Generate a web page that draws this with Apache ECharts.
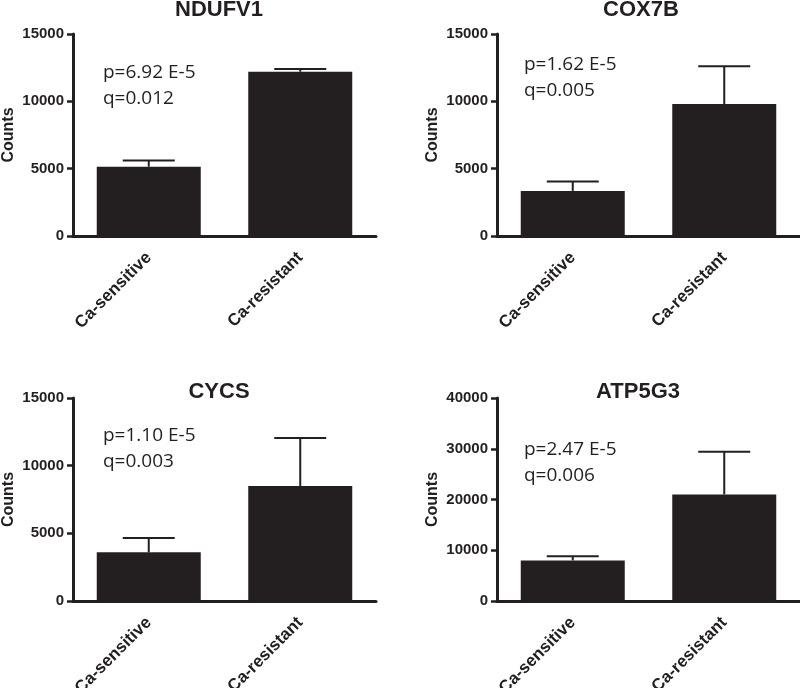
<!DOCTYPE html>
<html>
<head>
<meta charset="utf-8">
<script src="https://cdn.jsdelivr.net/npm/echarts@6/dist/echarts.min.js"></script>
<style>
html,body{margin:0;padding:0;background:#fff;overflow:hidden;}
#chart{width:800px;height:780px;}
</style>
</head>
<body>
<div id="chart"></div>
<script>
// ---- data ----
const categories = ['Ca-sensitive', 'Ca-resistant'];
const genes = ['NDUFV1', 'COX7B', 'CYCS', 'ATP5G3'];
const ndufv1Mean = [5150, 12200];
const ndufv1Upper = [5600, 12400];
const cox7bMean = [3350, 9800];
const cox7bUpper = [4050, 12600];
const cycsMean = [3600, 8500];
const cycsUpper = [4650, 12050];
const atp5g3Mean = [8000, 21000];
const atp5g3Upper = [8800, 29400];
const yMax = [15000, 15000, 15000, 40000];
const yInterval = [5000, 5000, 5000, 10000];
const pLabels = ['p=6.92 E-5', 'p=1.62 E-5', 'p=1.10 E-5', 'p=2.47 E-5'];
const qLabels = ['q=0.012', 'q=0.005', 'q=0.003', 'q=0.006'];

const means = [ndufv1Mean, cox7bMean, cycsMean, atp5g3Mean];
const uppers = [ndufv1Upper, cox7bUpper, cycsUpper, atp5g3Upper];

const INK = '#231f20';
const BOLD = '"Liberation Sans", Arial, sans-serif';
const LIGHT = '"Open Sans", sans-serif';

const grids = [
  {left: 72, top: 34, width: 304, height: 202},
  {left: 497, top: 34, width: 304, height: 202},
  {left: 72, top: 398, width: 304, height: 203},
  {left: 497, top: 398, width: 304, height: 203}
];

const titlePos = [[219, 10], [641, 10], [219, 392], [638, 392]];
const pPos = [[103, 73], [524, 64.5], [103, 436], [524, 449.5]];
const qPos = [[103, 99], [524, 90.5], [103, 462], [524, 475.5]];

const xAxes = [], yAxes = [], series = [], graphics = [];
for (let i = 0; i < 4; i++) {
  xAxes.push({
    type: 'category', gridIndex: i, data: categories,
    axisLine: {lineStyle: {color: INK, width: 3}},
    axisTick: {alignWithLabel: true, length: 9, lineStyle: {color: INK, width: 3}},
    axisLabel: {rotate: 45, margin: 19, color: INK, fontFamily: BOLD, fontWeight: 'bold', fontSize: 17, interval: 0},
    splitLine: {show: false}
  });
  yAxes.push({
    type: 'value', gridIndex: i, min: 0, max: yMax[i], interval: yInterval[i],
    name: 'Counts', nameLocation: 'middle', nameGap: 56,
    nameTextStyle: {color: INK, fontFamily: BOLD, fontWeight: 'bold', fontSize: 16},
    axisLine: {show: true, lineStyle: {color: INK, width: 3}},
    axisTick: {show: true, length: 6, lineStyle: {color: INK, width: 2.5}},
    axisLabel: {margin: 9, color: INK, fontFamily: BOLD, fontWeight: 'bold', fontSize: 15,
      formatter: function (v) { return String(v); }},
    splitLine: {show: false}
  });
  series.push({
    type: 'bar', xAxisIndex: i, yAxisIndex: i, data: means[i], barWidth: 104,
    itemStyle: {color: INK}, silent: true, animation: false
  });
  series.push({
    type: 'custom', xAxisIndex: i, yAxisIndex: i, z: 5, animation: false, silent: true,
    data: means[i].map((m, k) => [k, m, uppers[i][k]]),
    renderItem: function (params, api) {
      const b = api.coord([api.value(0), api.value(1)]);
      const t = api.coord([api.value(0), api.value(2)]);
      const half = 26;
      return {
        type: 'group',
        children: [
          {type: 'line', shape: {x1: b[0], y1: b[1], x2: t[0], y2: t[1]}, style: {stroke: INK, lineWidth: 2}},
          {type: 'line', shape: {x1: t[0] - half, y1: t[1], x2: t[0] + half, y2: t[1]}, style: {stroke: INK, lineWidth: 2}}
        ]
      };
    }
  });
  graphics.push({
    type: 'text', x: titlePos[i][0], y: titlePos[i][1],
    style: {text: genes[i], fill: INK, font: 'bold 22px ' + BOLD, textAlign: 'center', textVerticalAlign: 'middle'}
  });
  graphics.push({
    type: 'text', x: pPos[i][0], y: pPos[i][1],
    style: {text: pLabels[i], fill: INK, font: '19px ' + LIGHT, textAlign: 'left', textVerticalAlign: 'middle'}
  });
  graphics.push({
    type: 'text', x: qPos[i][0], y: qPos[i][1],
    style: {text: qLabels[i], fill: INK, font: '19px ' + LIGHT, textAlign: 'left', textVerticalAlign: 'middle'}
  });
}

const chart = echarts.init(document.getElementById('chart'), null, {renderer: 'canvas'});
chart.setOption({
  backgroundColor: '#ffffff',
  animation: false,
  grid: grids,
  xAxis: xAxes,
  yAxis: yAxes,
  series: series,
  graphic: graphics
});
</script>
</body>
</html>
